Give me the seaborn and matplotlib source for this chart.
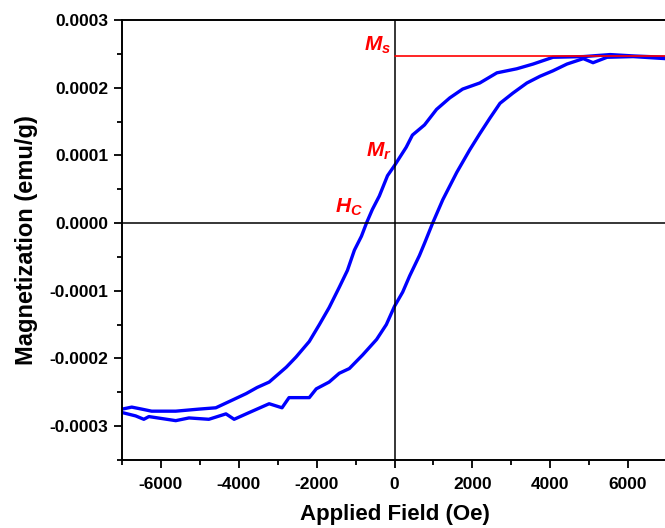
import numpy as np
import pandas as pd
import seaborn as sns
import matplotlib.pyplot as plt
from matplotlib.ticker import MultipleLocator

# descending branch (+H -> -H)
field_down = [6960, 6130, 5540, 4850, 4070, 3560, 3140, 2630, 2190, 1750, 1420, 1080,
              770, 460, 300, 0, -180, -390, -570, -720, -850, -1030, -1210, -1420,
              -1680, -1930, -2190, -2530, -2780, -3220, -3530, -3810, -4180, -4590,
              -5030, -5620, -6240, -6490, -6750, -7000]
mag_down = [0.000245, 0.000247, 0.000249, 0.000246, 0.000245, 0.000235, 0.000228,
            0.000222, 0.000207, 0.000198, 0.000185, 0.000168, 0.000145, 0.000130,
            0.000112, 0.000085, 0.000070, 0.000040, 0.000020, 0.0, -0.0000195,
            -0.000040, -0.000070, -0.000095, -0.000125, -0.000150, -0.000175,
            -0.000198, -0.000213, -0.000235, -0.000243, -0.000252, -0.000262,
            -0.000273, -0.000275, -0.000278, -0.000278, -0.000275, -0.000272, -0.000275]

# ascending branch (-H -> +H)
field_up = [-7000, -6650, -6440, -6310, -5620, -5280, -4770, -4330, -4120, -3810,
            -3220, -2890, -2710, -2190, -2010, -1680, -1420, -1160, -820, -460, -210,
            0, 210, 390, 640, 770, 980, 1240, 1600, 1930, 2190, 2450, 2710, 3040,
            3400, 3740, 4070, 4430, 4850, 5100, 5460, 6130, 6960]
mag_up = [-0.000280, -0.000285, -0.000290, -0.000286, -0.000292, -0.000288, -0.000290,
          -0.000282, -0.000290, -0.000282, -0.000267, -0.000273, -0.000258, -0.000258,
          -0.000245, -0.000235, -0.000222, -0.000215, -0.000195, -0.000172, -0.000150,
          -0.000123, -0.000102, -0.000078, -0.000048, -0.000030, 0.0, 0.0000345,
          0.000075, 0.000108, 0.000132, 0.000155, 0.000177, 0.000192, 0.000207,
          0.000217, 0.000225, 0.000235, 0.000243, 0.000237, 0.000245, 0.000246, 0.000243]

ms_value = 0.000247
x_ticks = [-6000, -4000, -2000, 0, 2000, 4000, 6000]
y_ticks = [-0.0003, -0.0002, -0.0001, 0.0, 0.0001, 0.0002, 0.0003]
y_labels = ['-0.0003', '-0.0002', '-0.0001', '0.0000', '0.0001', '0.0002', '0.0003']

sns.set_style('ticks')
plt.rcParams['font.family'] = ['Liberation Sans', 'DejaVu Sans']
plt.rcParams['mathtext.fontset'] = 'custom'
plt.rcParams['mathtext.it'] = 'Liberation Sans:bold:italic'
plt.rcParams['mathtext.rm'] = 'Liberation Sans:bold'
plt.rcParams['axes.unicode_minus'] = False
for key in ['text.color', 'axes.labelcolor', 'xtick.color', 'ytick.color', 'axes.edgecolor']:
    plt.rcParams[key] = 'black'

df = pd.DataFrame({
    'H': field_down + field_up,
    'M': mag_down + mag_up,
    'branch': ['down'] * len(field_down) + ['up'] * len(field_up),
})

fig = plt.figure(figsize=(6.65, 5.28), dpi=100)
ax = fig.add_axes([0.1835, 0.129, 0.8195, 0.833])

sns.lineplot(data=df, x='H', y='M', units='branch', estimator=None, sort=False,
             color='#0000ff', linewidth=2.4, ax=ax)

ax.axhline(0, color='black', linewidth=1.1)
ax.axvline(0, color='black', linewidth=1.1)
ax.plot([0, 7000], [ms_value, ms_value], color='red', linewidth=1.2)

ax.text(-90, 0.000255, '$M_s$', color='red', fontsize=15, ha='right', va='baseline')
ax.text(-70, 0.0000975, '$M_r$', color='red', fontsize=15, ha='right', va='baseline')
ax.text(-820, 0.000015, '$H_C$', color='red', fontsize=15, ha='right', va='baseline')

ax.set_xlim(-7000, 7000)
ax.set_ylim(-0.00035, 0.0003)
ax.set_xticks(x_ticks)
ax.set_yticks(y_ticks)
ax.set_yticklabels(y_labels)
ax.xaxis.set_minor_locator(MultipleLocator(1000))
ax.yaxis.set_minor_locator(MultipleLocator(0.00005))
ax.tick_params(which='major', length=6, width=1.3, labelsize=12.5, direction='out')
ax.tick_params(axis='x', which='major', pad=6)
ax.tick_params(axis='y', which='major', pad=4)
ax.tick_params(which='minor', length=3.5, width=1.3, direction='out')
for lbl in ax.get_xticklabels() + ax.get_yticklabels():
    lbl.set_fontweight('bold')
for sp in ax.spines.values():
    sp.set_visible(True)
    sp.set_linewidth(1.4)

ax.set_xlabel('Applied Field (Oe)', fontsize=16, fontweight='bold', labelpad=9)
ax.set_ylabel('Magnetization (emu/g)', fontsize=17, fontweight='bold', labelpad=8)

fig.savefig('out.png', dpi=100)
